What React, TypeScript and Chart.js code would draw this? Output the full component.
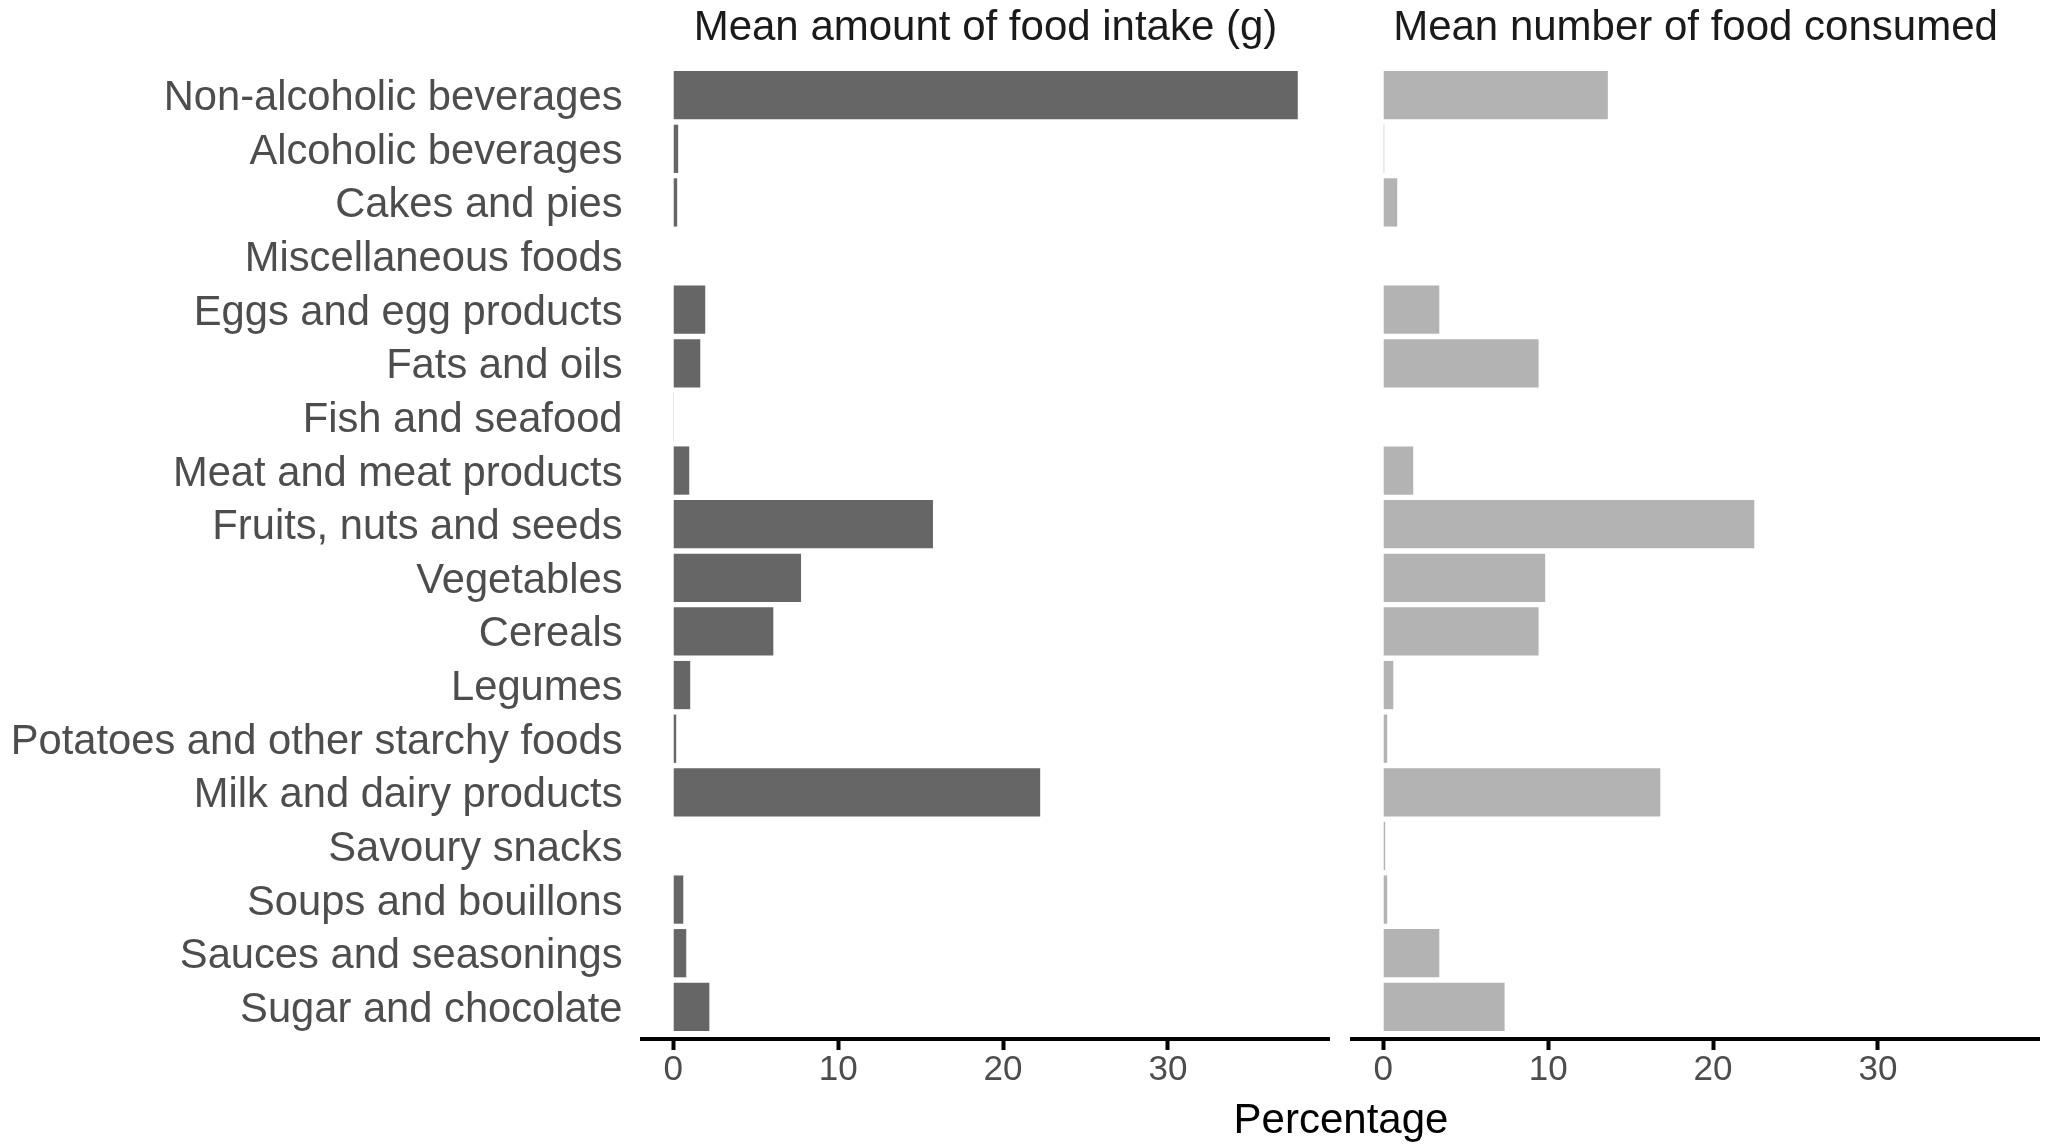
import React, { useEffect, useRef } from "react";
import { Chart, registerables } from "chart.js";

Chart.register(...registerables);

const categories: string[] = [
  "Non-alcoholic beverages",
  "Alcoholic beverages",
  "Cakes and pies",
  "Miscellaneous foods",
  "Eggs and egg products",
  "Fats and oils",
  "Fish and seafood",
  "Meat and meat products",
  "Fruits, nuts and seeds",
  "Vegetables",
  "Cereals",
  "Legumes",
  "Potatoes and other starchy foods",
  "Milk and dairy products",
  "Savoury snacks",
  "Soups and bouillons",
  "Sauces and seasonings",
  "Sugar and chocolate",
];

const amountPct: number[] = [
  37.87, 0.3, 0.24, 0, 1.94, 1.64, 0.04, 0.97, 15.75, 7.75, 6.07, 1.03, 0.18, 22.25, 0.03, 0.61, 0.79, 2.19,
];

const numberPct: number[] = [
  13.62, 0.06, 0.85, 0, 3.4, 9.42, 0.03, 1.82, 22.5, 9.82, 9.42, 0.61, 0.24, 16.8, 0.12, 0.24, 3.4, 7.36,
];

const panelTitles: string[] = ["Mean amount of food intake (g)", "Mean number of food consumed"];
const xTicks: number[] = [0, 10, 20, 30];
const axisTitle = "Percentage";

const FONT = "'Liberation Sans', Arial, sans-serif";

const dataMax = Math.max(...amountPct, ...numberPct);
const xMin = -0.05 * dataMax;
const xMax = dataMax * 1.05;
const yMin = -0.6;
const yMax = categories.length - 1 + 0.6;

function makeConfig(values: number[], color: string, title: string, showY: boolean, padLeft: number, padRight: number): any {
  return {
    type: "bar",
    data: {
      datasets: [
        {
          data: values.map((v, i) => ({ x: v, y: i })),
          backgroundColor: color,
          borderWidth: 0,
          barPercentage: 0.9,
          categoryPercentage: 1,
        },
      ],
    },
    options: {
      indexAxis: "y",
      animation: false,
      responsive: false,
      devicePixelRatio: 1,
      layout: { padding: { left: padLeft, right: padRight, top: 0, bottom: 54 } },
      plugins: {
        legend: { display: false },
        tooltip: { enabled: false },
        title: {
          display: true,
          text: title,
          fullSize: false,
          color: "#1a1a1a",
          font: { family: FONT, size: 42, weight: "normal", lineHeight: 1.2 },
          padding: { top: 3, bottom: 9.6 },
        },
      },
      scales: {
        y: {
          type: "linear",
          reverse: true,
          offset: false,
          min: yMin,
          max: yMax,
          display: showY,
          afterFit: (s: any) => {
            if (showY) s.width = 642;
            s.paddingTop = 0;
            s.paddingBottom = 0;
          },
          grid: { display: false, drawTicks: false, offset: false },
          border: { display: false },
          ticks: {
            stepSize: 1,
            includeBounds: false,
            autoSkip: false,
            padding: 19.5,
            labelOffset: 3.5,
            color: "#4d4d4d",
            font: { family: FONT, size: 41.7 },
            callback: (v: any) => categories[v as number] ?? "",
          },
        },
        x: {
          type: "linear",
          offset: false,
          min: xMin,
          max: xMax,
          grid: {
            display: true,
            drawOnChartArea: false,
            drawTicks: true,
            tickLength: 11,
            tickWidth: 4,
            tickColor: "#000000",
          },
          border: { display: true, color: "#000000", width: 4 },
          afterBuildTicks: (s: any) => {
            s.ticks = xTicks.map((v) => ({ value: v }));
          },
          ticks: {
            padding: -1,
            color: "#4d4d4d",
            font: { family: FONT, size: 35 },
            maxRotation: 0,
          },
        },
      },
    },
  };
}

export default function App() {
  const leftRef = useRef<HTMLCanvasElement | null>(null);
  const rightRef = useRef<HTMLCanvasElement | null>(null);

  useEffect(() => {
    const c1 = new Chart(leftRef.current as HTMLCanvasElement, makeConfig(amountPct, "#666666", panelTitles[0], true, 0, 11));
    const c2 = new Chart(rightRef.current as HTMLCanvasElement, makeConfig(numberPct, "#b3b3b3", panelTitles[1], false, 12, 8));
    return () => {
      c1.destroy();
      c2.destroy();
    };
  }, []);

  return (
    <div style={{ position: "absolute", left: 0, top: 0, width: 2047, height: 1144, background: "#ffffff" }}>
      <canvas ref={leftRef} width={1340} height={1144} style={{ position: "absolute", left: 0, top: 0, width: 1340, height: 1144 }} />
      <canvas ref={rightRef} width={707} height={1144} style={{ position: "absolute", left: 1340, top: 0, width: 707, height: 1144 }} />
      <div
        style={{
          position: "absolute",
          left: 1041,
          width: 600,
          top: 1094,
          height: 50,
          lineHeight: "50px",
          textAlign: "center",
          fontFamily: FONT,
          fontSize: 42,
          color: "#000000",
        }}
      >
        {axisTitle}
      </div>
    </div>
  );
}
